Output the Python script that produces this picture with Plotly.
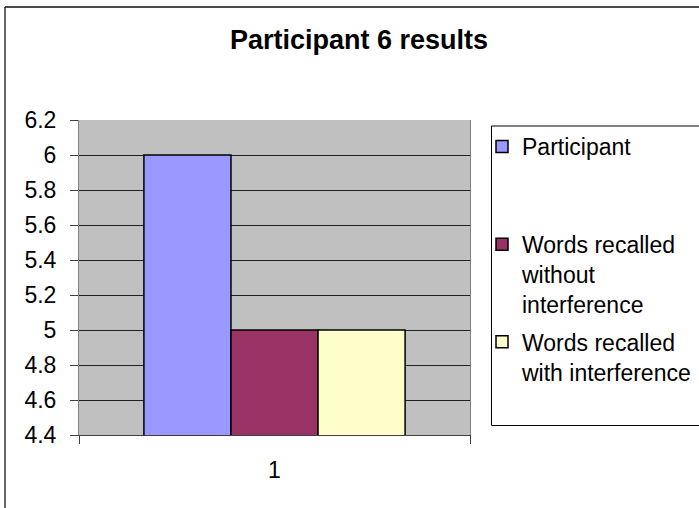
import plotly.graph_objects as go

categories = ["1"]
series_names = [
    "Participant<br>\u00a0<br>\u00a0",
    "Words recalled<br>without<br>interference",
    "Words recalled<br>with interference<br>\u00a0",
]
series_values = [[6], [5], [5]]
series_colors = ["#9999FF", "#993366", "#FFFFCC"]
y_ticks = [4.4, 4.6, 4.8, 5.0, 5.2, 5.4, 5.6, 5.8, 6.0, 6.2]

W, H = 699, 508
L, R, T, B = 79, 470, 120, 435  # plot area in px

def px_x(p):
    return (p - L) / (R - L)

def px_y(p):
    return (B - p) / (B - T)

fig = go.Figure()
for i, (name, vals, col) in enumerate(zip(series_names, series_values, series_colors)):
    fig.add_trace(go.Bar(
        x=categories, y=vals, name=name, legendgroup=f"g{i}",
        marker=dict(color=col, line=dict(color="black", width=1.5)),
    ))

fig.update_layout(
    width=W, height=H,
    margin=dict(l=L, r=W - R, t=T, b=H - B, autoexpand=False),
    paper_bgcolor="white",
    plot_bgcolor="#C0C0C0",
    font=dict(family="Liberation Sans, Arial, sans-serif", color="black", size=23),
    barmode="group", bargap=0.332, bargroupgap=0,
    title=dict(text="<b>Participant 6 results</b>", x=359 / W, xanchor="center",
               y=1 - 40 / H, yanchor="middle", yref="container",
               font=dict(size=27, color="black")),
    showlegend=True,
    legend=dict(x=px_x(482), xanchor="left", y=px_y(125), yanchor="top",
                bgcolor="rgba(0,0,0,0)", borderwidth=0,
                font=dict(size=23), valign="top", traceorder="grouped",
                tracegroupgap=5),
    xaxis=dict(type="category", range=[-0.5, 0.5], showgrid=False,
               showline=True, linecolor="#404040", linewidth=1,
               ticks="outside", tickson="boundaries", ticklen=8, tickcolor="#404040",
               ticklabelstandoff=14, tickfont=dict(size=23)),
    yaxis=dict(range=[4.4, 6.2], tickvals=y_ticks, ticktext=[f"{v:g}" for v in y_ticks],
               showgrid=True, gridcolor="#202020", gridwidth=1,
               showline=True, linecolor="#808080", linewidth=1, mirror=True,
               ticks="outside", ticklen=8, tickcolor="#404040",
               ticklabelstandoff=9, tickfont=dict(size=23), zeroline=False),
    shapes=[
        # outer chart border (left and top, the rest is cropped)
        dict(type="line", xref="paper", yref="paper",
             x0=px_x(5), x1=px_x(5), y0=px_y(7), y1=px_y(520),
             line=dict(color="#333333", width=1.5)),
        dict(type="line", xref="paper", yref="paper",
             x0=px_x(5), x1=px_x(720), y0=px_y(7), y1=px_y(7),
             line=dict(color="#111111", width=1.5)),
        # legend box
        dict(type="rect", xref="paper", yref="paper",
             x0=px_x(491.5), x1=px_x(730), y0=px_y(425.5), y1=px_y(126),
             line=dict(color="black", width=1), fillcolor="rgba(0,0,0,0)"),
    ],
)

fig.write_html("out.html")
